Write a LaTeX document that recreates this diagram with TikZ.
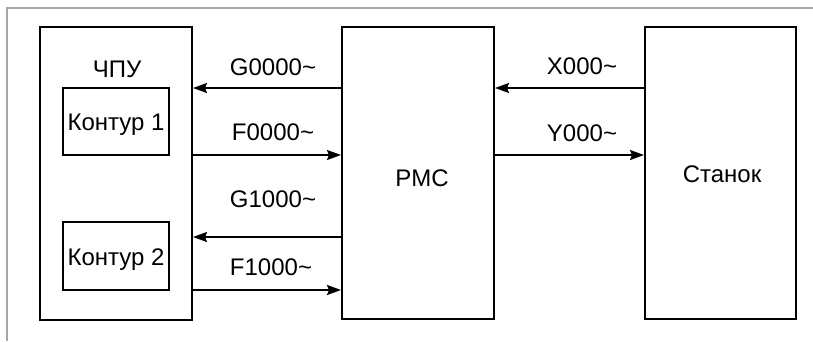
\documentclass[tikz,border=0pt]{standalone}
\usepackage{fontspec}
\setmainfont{Liberation Sans}
\usetikzlibrary{arrows.meta}
\begin{document}
\begin{tikzpicture}[x=1pt,y=-1pt,
  box/.style={draw=black,line width=2pt,rectangle,inner sep=0pt,minimum width=#1},
  lbl/.style={anchor=base,inner sep=0pt,font=\fontsize{24}{28}\selectfont},
  arr/.style={line width=2pt,-{Stealth[length=14pt,width=10pt,inset=2pt]}},
  frame/.style={draw=black!35,line width=2pt}]
\useasboundingbox (0,0) rectangle (813,341);
\fill[white] (0,0) rectangle (813,341);
% grey frame
\coordinate (ftr) at (813,8);
\coordinate (ftl) at (7,8);
\coordinate (fbl) at (7,341);
\draw[frame] (ftr) -- (ftl) -- (fbl);
% boxes
\node[box=152pt,minimum height=293pt] (cnc) at (116,173.5) {};
\node[box=106pt,minimum height=67pt] (k1) at (116,121.5) {};
\node[box=106pt,minimum height=68pt] (k2) at (116,256) {};
\node[box=152pt,minimum height=292pt] (pmc) at (418,173) {};
\node[box=151pt,minimum height=292pt] (st) at (720.5,173) {};
% texts
\node[lbl] (tcnc) at (117,77) {ЧПУ};
\node[lbl] (tk1) at (116,130) {Контур 1};
\node[lbl] (tk2) at (116,265) {Контур 2};
\node[lbl] (tpmc) at (422,186) {PMC};
\node[lbl] (tst) at (722,182) {Станок};
\node[lbl] (tg0) at (273,75) {G0000\char`~};
\node[lbl] (tf0) at (273,140) {F0000\char`~};
\node[lbl] (tg1) at (273,207) {G1000\char`~};
\node[lbl] (tf1) at (271,275) {F1000\char`~};
\node[lbl] (tx) at (582,74) {X000\char`~};
\node[lbl] (ty) at (582,141) {Y000\char`~};
% connectors
\coordinate (yg0) at (0,88);
\coordinate (yf0) at (0,155);
\coordinate (yg1) at (0,237);
\coordinate (yf1) at (0,290);
\draw[arr] (pmc.west |- yg0) -- (cnc.east |- yg0);
\draw[arr] (cnc.east |- yf0) -- (pmc.west |- yf0);
\draw[arr] (pmc.west |- yg1) -- (cnc.east |- yg1);
\draw[arr] (cnc.east |- yf1) -- (pmc.west |- yf1);
\draw[arr] (st.west |- yg0) -- (pmc.east |- yg0);
\draw[arr] (pmc.east |- yf0) -- (st.west |- yf0);
\end{tikzpicture}
\end{document}
